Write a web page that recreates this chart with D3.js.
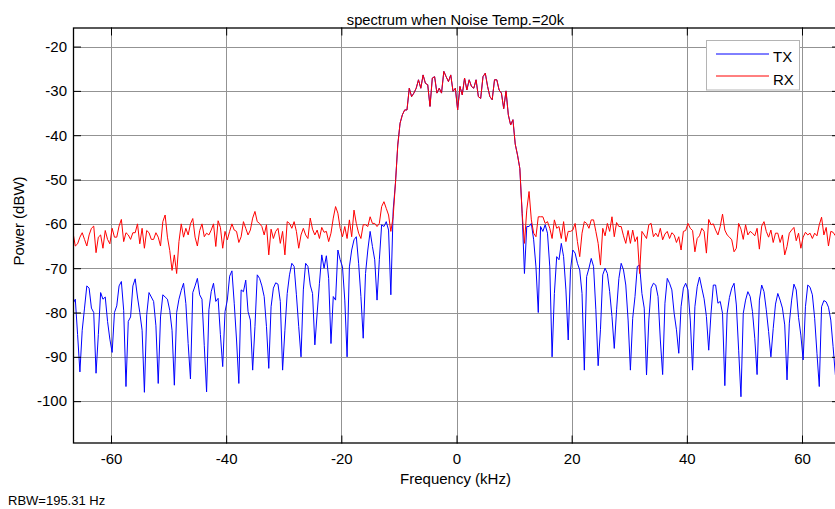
<!DOCTYPE html>
<html>
<head>
<meta charset="utf-8">
<script src="https://cdn.jsdelivr.net/npm/d3@7"></script>
<style>
  html, body { margin: 0; padding: 0; background: #fff; overflow: hidden; }
  svg { display: block; font-family: "Liberation Sans", Arial, Helvetica, sans-serif; }
</style>
</head>
<body>
<svg id="chart" width="835" height="509"></svg>
<script>
// ---------------- data ----------------
const titleText = "spectrum when Noise Temp.=20k";
const xLabel = "Frequency (kHz)";
const yLabel = "Power (dBW)";
const noteText = "RBW=195.31 Hz";
const seriesNames = ["TX", "RX"];
const seriesColors = ["#0000ff", "#ff0000"];
const xTicks = [-60, -40, -20, 0, 20, 40, 60];
const yTicks = [-100, -90, -80, -70, -60, -50, -40, -30, -20];
const freqStart = -66.6;   // kHz, first bin
const freqStep = 0.4;      // kHz between plotted bins

const txPower = [
  -78, -77, -85, -93.4, -84, -79, -74, -74.5, -79, -80,
  -93.7, -85, -75.5, -77, -76.5, -82, -86, -89, -80, -78.5,
  -74, -73, -79.5, -96.7, -82, -81, -74, -72.4, -76.5, -80,
  -84, -98, -80.5, -75.5, -76.5, -77.5, -83, -96, -81, -76,
  -76.5, -77, -79.5, -84, -96.4, -80, -77, -75, -73.4, -78,
  -87, -95, -75.5, -74, -72.3, -76, -77,
  -87.5, -97.9, -79.4, -75.3, -73.4, -77.5, -76.8, -85, -92.2, -79.8,
  -77.2, -71.8, -70.6, -77.9, -86.2, -96, -74.9, -75.3, -72.7, -79.8,
  -81.7, -93, -83.2, -71.5, -72.3, -74, -76.4, -83.2, -92.6, -78.7,
  -74.5, -73.3, -73.6, -77.5, -93, -84, -75.7, -71.5, -68.9, -69.6,
  -76, -83.2, -90, -74.9, -68.9, -69.6, -73.8, -75.7, -87.3, -80.2,
  -73.4, -67, -70, -67.2, -72.3, -87,
  -76.4, -77.2, -65.9, -68.1, -69.7, -77.2, -90, -69.7, -65.9, -63.6,
  -62.9, -68.9, -76.4, -85.8, -71.2, -65.9, -61.7, -65.1, -68.1, -77.2,
  -68.1, -60.2, -60.6, -59.5, -61.4, -76, -56.9,
  -50.8, -42.2, -37.3, -35.4, -34.3, -34.3, -29.4, -31.3, -30.5, -29.4,
  -27.5, -29.4, -26.4, -28.3, -28.6, -33.5, -27.1, -26.8, -30.5, -29.4,
  -30.5, -25.6, -26.8, -27.9, -26.4, -30.1, -29.4, -34.3, -29, -30.9,
  -27.1, -29.8, -27.5, -29, -29.4, -27.5, -31.3, -31.7, -26.8, -26,
  -29, -31.3, -32, -27.5, -27.5, -29.8, -30.5, -34, -30, -35.4,
  -37.7, -36.5, -42, -44.5, -47.5,
  -57.6, -71.2, -60.6, -60.6, -59.9, -63.6, -69.7, -80, -60.6, -61.7,
  -60.2, -62.1, -69.7, -90, -75.7, -67.4, -68.1, -64.4, -67.4, -74.9,
  -86.2, -70.4, -65.9, -66.6, -68.9, -70.4, -75.7, -93, -71.9,
  -70, -67.8, -69.6, -79.4, -92, -83.9, -71.5, -70, -71.2, -75.3,
  -80.9, -88.1, -79.4, -72.3, -68.9, -70.4, -73.8, -81.7, -93, -81.3,
  -76.4, -69.6, -69.3, -75.7, -79, -94.1, -81.7, -74.5, -73.4, -73.8,
  -76.4, -86.2, -94, -77.9, -72.3, -73.4, -74.9, -80.2, -83.9, -89.2,
  -78.7, -74.5, -73.4, -74.9, -81.7, -93, -78.7, -74.2, -72, -74.5,
  -76.9, -80.9, -88.5, -80.2,
  -73.8, -73.8, -77.9, -77.5, -80.2, -96.5, -80.2, -76.6, -74.5, -73.4,
  -78.3, -88.5, -99, -80.2, -77.2, -75.3, -76.4, -79.8, -85.8, -94,
  -77.2, -73.8, -75.3, -79.4, -84.3, -90, -83.6, -78.1, -75.7, -77.2,
  -79, -82.8, -95.2, -82.4, -77.2, -73.6, -74.9, -81.1, -85.1, -90.7,
  -78.7, -73.8, -74.3, -76, -81.3, -89.2, -96.7, -78.7, -77.3, -77.6,
  -78.8, -81.7, -87.7, -94.1
];

const rxPower = [
  -62, -65, -64.5, -63, -62, -63.5, -65, -62.5, -61, -60.5,
  -66.5, -63, -62.5, -65.5, -61.5, -63.5, -64.5, -61, -63, -63,
  -60.5, -59, -64, -62, -62.5, -63.5, -62, -62, -60, -64.5,
  -61, -65.5, -61.5, -62, -63.5, -63.5, -62, -63, -65, -59.5,
  -58, -63, -66, -70.5, -67, -71.2, -64, -60, -63, -61,
  -62.5, -60, -58.8, -63, -65, -61.5, -60,
  -62.9, -62.1, -62.5, -61.4, -60, -65.1, -59.3, -60.8, -65.5, -61.7,
  -63.6, -61.7, -60, -61.4, -61.7, -64.2, -62.9, -59.5, -61, -62.5,
  -61.4, -58.7, -57.2, -59.5, -59.9, -60.6, -62.5, -60.2, -67, -61.2,
  -63.3, -61.7, -61, -64.4, -61.7, -67, -59.5, -59.9, -61, -59.5,
  -61.7, -65.5, -62.5, -61, -62.5, -63.3, -58.7, -61.2, -62.5, -61.4,
  -63.3, -60.8, -61.9, -61.7, -64, -62.1,
  -58.7, -56.1, -57.6, -61, -62.9, -60.6, -63.3, -59.1, -62.9, -56.9,
  -59.9, -62.1, -63.3, -60.2, -60.2, -60.6, -58.4, -59.9, -59.9, -60.6,
  -59.9, -56.1, -55, -56.5, -58, -61.7, -58.4,
  -50.8, -42.2, -37.3, -35.4, -34.3, -34.3, -29.4, -31.3, -30.5, -29.4,
  -27.5, -29.4, -26.4, -28.3, -28.6, -33.5, -27.1, -26.8, -30.5, -29.4,
  -30.5, -25.6, -26.8, -27.9, -26.4, -30.1, -29.4, -34.3, -29, -30.9,
  -27.1, -29.8, -27.5, -29, -29.4, -27.5, -31.3, -31.7, -26.8, -26,
  -29, -31.3, -32, -27.5, -27.5, -29.8, -30.5, -34, -30, -35.4,
  -37.7, -36.5, -42, -44.5, -47.5,
  -57.6, -64.4, -56.9, -52.7, -59.1, -62.1, -62.9, -58.4, -58.4, -58.4,
  -59.9, -59.5, -61, -63.3, -59.1, -61, -60.6, -63.3, -59.5, -64,
  -61.7, -61.7, -61.4, -59.9, -64, -67.4, -62.1, -59.5, -59.9,
  -61, -59.1, -59.1, -61.7, -64.4, -69.3, -61, -62.7, -59.9, -61.7,
  -58.4, -62.9, -59.7, -60.6, -60.6, -62.7, -64.4, -61.5, -64.4, -61.4,
  -64, -62.9, -71.2, -61.7, -62.5, -63.3, -60.2, -59.9, -62.9, -62.1,
  -62.9, -61, -63.6, -62.3, -61.7, -63.3, -62, -62.5, -64.2, -62.9,
  -65.9, -61.7, -61.5, -59.9, -61, -61.5, -66.3, -63.3, -62.7, -61,
  -61.7, -66.6, -59, -60.2,
  -60, -61.4, -62.5, -60.6, -57.8, -61.4, -62.5, -63, -63.6, -66.3,
  -65.5, -59.9, -61.2, -63.5, -60.2, -62.5, -61.7, -62.1, -62.7, -61,
  -65.7, -60.5, -59.5, -61.7, -63, -61.4, -64.2, -62.1, -62.1, -64.2,
  -62.5, -67, -65.1, -62.1, -61.4, -60.8, -63.8, -62.1, -65.5, -63,
  -61.9, -62.5, -62.1, -63.3, -62.1, -62.7, -60.2, -58.5, -62.5, -60.8,
  -65, -61.7, -61.9, -62.7
];

// ---------------- layout ----------------
const W = 835, H = 509;
const plot = { left: 73, right: 840, top: 27.5, bottom: 443.5 };
const fontSize = 15;

const svg = d3.select("#chart");

const x = d3.scaleLinear().domain([-66.6, 66.6]).range([plot.left, plot.right]);
const y = d3.scaleLinear().domain([-109.55, -15.7]).range([plot.bottom, plot.top]);

const freqs = d3.range(txPower.length).map(i => freqStart + freqStep * i);
const series = [txPower, rxPower].map((vals, k) => ({
  name: seriesNames[k],
  color: seriesColors[k],
  points: vals.map((v, i) => [freqs[i], v])
}));

svg.append("rect").attr("width", W).attr("height", H).attr("fill", "#fff");

// clip
svg.append("defs").append("clipPath").attr("id", "clip")
  .append("rect")
  .attr("x", plot.left).attr("y", plot.top)
  .attr("width", plot.right - plot.left).attr("height", plot.bottom - plot.top);

// grid
const grid = svg.append("g").attr("class", "grid");
grid.selectAll("line.vx").data(xTicks).join("line")
  .attr("x1", d => Math.round(x(d)) + 0.5).attr("x2", d => Math.round(x(d)) + 0.5)
  .attr("y1", plot.top).attr("y2", plot.bottom)
  .attr("stroke", "#939393").attr("stroke-width", 1);
grid.selectAll("line.hy").data(yTicks).join("line")
  .attr("y1", d => Math.round(y(d)) + 0.5).attr("y2", d => Math.round(y(d)) + 0.5)
  .attr("x1", plot.left).attr("x2", plot.right)
  .attr("stroke", "#939393").attr("stroke-width", 1);

// lines
const line = d3.line().x(d => x(d[0])).y(d => y(d[1]));
const lines = svg.append("g").attr("clip-path", "url(#clip)");
lines.selectAll("path").data(series).join("path")
  .attr("d", d => line(d.points))
  .attr("fill", "none")
  .attr("stroke", d => d.color)
  .attr("stroke-width", 1)
  .attr("stroke-linejoin", "round");

// axes (ticks inside)
const tickLen = 8;
const fmt = d => String(d);
const axBottom = d3.axisBottom(x).tickValues(xTicks).tickSize(-tickLen).tickPadding(10).tickFormat(fmt);
const axTop = d3.axisTop(x).tickValues(xTicks).tickSize(-tickLen).tickFormat("");
const axLeft = d3.axisLeft(y).tickValues(yTicks).tickSize(-tickLen).tickPadding(6).tickFormat(fmt);
const axRight = d3.axisRight(y).tickValues(yTicks).tickSize(-tickLen).tickFormat("");

function styleAxis(g) {
  g.select(".domain").remove();
  g.selectAll(".tick line").attr("stroke", "#000").attr("stroke-width", 1);
  g.selectAll(".tick text").attr("fill", "#000").attr("font-size", fontSize)
    .attr("font-family", "'Liberation Sans', Arial, sans-serif");
}
svg.append("g").attr("transform", `translate(0,${plot.bottom})`).call(axBottom).call(styleAxis)
  .selectAll(".tick text").attr("dy", "0.71em");
svg.append("g").attr("transform", `translate(0,${plot.top})`).call(axTop).call(styleAxis);
svg.append("g").attr("transform", `translate(${plot.left},0)`).call(axLeft).call(styleAxis);
svg.append("g").attr("transform", `translate(${plot.right},0)`).call(axRight).call(styleAxis);

// frame
svg.append("rect")
  .attr("x", plot.left + 0.5).attr("y", plot.top + 0.5)
  .attr("width", plot.right - plot.left - 1).attr("height", plot.bottom - plot.top - 1)
  .attr("fill", "none").attr("stroke", "#000").attr("stroke-width", 1.3);

// title and labels
svg.append("text").attr("x", 455.5).attr("y", 25).attr("text-anchor", "middle")
  .attr("font-size", 14.7).attr("fill", "#000").text(titleText);
svg.append("text").attr("x", 455.5).attr("y", 484).attr("text-anchor", "middle")
  .attr("font-size", fontSize).attr("fill", "#000").text(xLabel);
svg.append("text").attr("transform", "translate(24,221) rotate(-90)").attr("text-anchor", "middle")
  .attr("font-size", fontSize).attr("fill", "#000").text(yLabel);
svg.append("text").attr("x", 8).attr("y", 505)
  .attr("font-size", 13).attr("fill", "#000").text(noteText);

// legend
const lg = svg.append("g");
lg.append("rect").attr("x", 706.5).attr("y", 40.5).attr("width", 93).attr("height", 49.5)
  .attr("fill", "#fff").attr("stroke", "#b4b4b4").attr("stroke-width", 1);
series.forEach((s, k) => {
  const yy = [54, 76][k];
  lg.append("line").attr("x1", 716).attr("x2", 769).attr("y1", yy).attr("y2", yy)
    .attr("stroke", s.color).attr("stroke-width", 1);
  lg.append("text").attr("x", 773).attr("y", [61.5, 84.5][k])
    .attr("font-size", fontSize).attr("fill", "#000").text(s.name);
});
</script>
</body>
</html>
